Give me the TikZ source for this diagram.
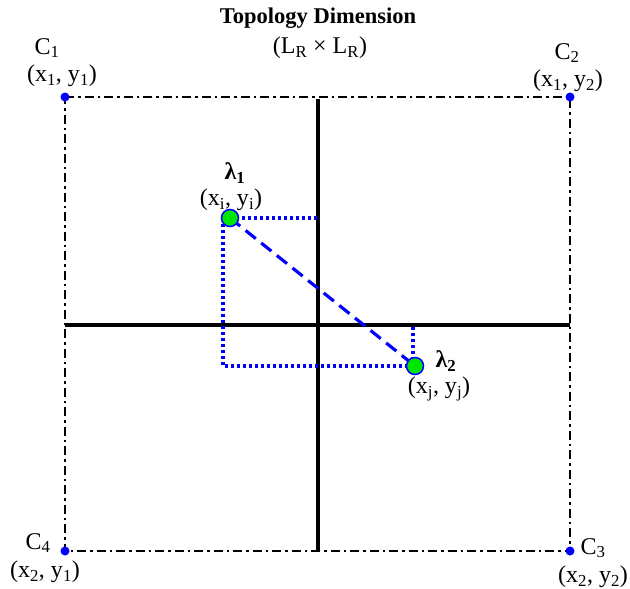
\documentclass[tikz,border=0pt]{standalone}
\usepackage{fontspec}
\setmainfont{Liberation Serif}
\usepackage{tikz}
\usetikzlibrary{arrows.meta, positioning}

\tikzset{
  corner/.style={circle, fill=blue, inner sep=0pt, minimum size=9pt},
  point/.style={circle, draw=blue, fill=green!90!black, line width=1.5pt, inner sep=0pt, minimum size=17pt},
  axis/.style={line width=3.2pt},
  frame/.style={line width=2pt, dash pattern=on 9pt off 4pt on 2.5pt off 4pt},
  proj/.style={blue, line width=3.2pt, dash pattern=on 3.2pt off 2.8pt},
  link/.style={blue, line width=3.2pt, dash pattern=on 13pt off 7pt},
  lbl/.style={font=\fontsize{24}{28}\selectfont, inner sep=0pt}
}

\begin{document}
\begin{tikzpicture}[x=1pt, y=-1pt]
  \useasboundingbox (0,0) rectangle (630,589);

  % title
  \node (title) at (318,18) [font=\fontsize{22.5}{26}\selectfont\bfseries, inner sep=0pt] {Topology Dimension};
  \node (size) at (320,48) [lbl] {(L\textsubscript{R} × L\textsubscript{R})};

  % frame and axes
  \coordinate (c1) at (65,97);
  \coordinate (c2) at (570,97);
  \coordinate (c3) at (570,551);
  \coordinate (c4) at (65,551);
  \draw[frame] (c1) -- (c2) -- (c3) -- (c4) -- cycle;
  \coordinate (top) at (318,99);
  \coordinate (bottom) at (318,551);
  \coordinate (left) at (65,325);
  \coordinate (right) at (570,325);
  \draw[axis] (top) -- (bottom);
  \draw[axis] (left) -- (right);

  % corners
  \node[corner] (d1) at (c1) {};
  \node[corner] (d2) at (c2) {};
  \node[corner] (d3) at (c3) {};
  \node[corner] (d4) at (c4) {};
  \node (n1) at (47,48) [lbl] {C\textsubscript{1}};
  \node (p1) at (62,76) [lbl] {(x\textsubscript{1}, y\textsubscript{1})};
  \node (n2) at (567,53) [lbl] {C\textsubscript{2}};
  \node (p2) at (568,81) [lbl] {(x\textsubscript{1}, y\textsubscript{2})};
  \node (n3) at (593,548) [lbl] {C\textsubscript{3}};
  \node (p3) at (593,577) [lbl] {(x\textsubscript{2}, y\textsubscript{2})};
  \node (n4) at (38,543) [lbl] {C\textsubscript{4}};
  \node (p4) at (45,572) [lbl] {(x\textsubscript{2}, y\textsubscript{1})};

  % projections of the two points
  \coordinate (a) at (230,218);
  \coordinate (b) at (415,366);
  \coordinate (ax) at (318,218);
  \coordinate (ay) at (223,218);
  \coordinate (ab) at (223,366);
  \coordinate (bx) at (413,366);
  \coordinate (by) at (413,325);
  \draw[proj] (a) -- (ax);
  \draw[proj] (ay) -- (ab) -- (b);
  \draw[proj] (bx) -- (by);
  \draw[link] (a) -- (b);

  % the two points
  \node[point] (l1) at (a) {};
  \node[point] (l2) at (b) {};
  \node (t1) at (235,173) [lbl, font=\fontsize{24}{28}\selectfont\bfseries] {λ\textsubscript{1}};
  \node (q1) at (231,200) [lbl] {(x\textsubscript{i}, y\textsubscript{i})};
  \node (t2) at (446,361) [lbl, font=\fontsize{24}{28}\selectfont\bfseries] {λ\textsubscript{2}};
  \node (q2) at (439,389) [lbl] {(x\textsubscript{j}, y\textsubscript{j})};
\end{tikzpicture}
\end{document}
